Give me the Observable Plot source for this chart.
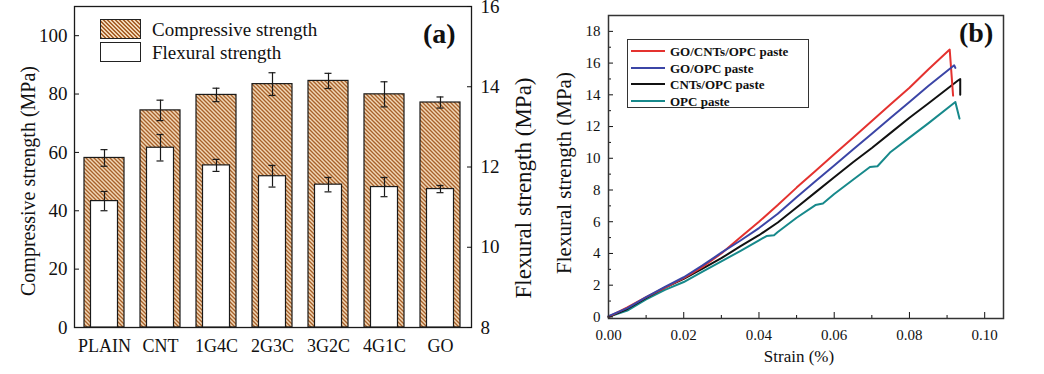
<!DOCTYPE html>
<html><head><meta charset="utf-8">
<script src="https://cdn.jsdelivr.net/npm/d3@7"></script>
<script src="https://cdn.jsdelivr.net/npm/@observablehq/plot@0.6"></script>
<style>
body{margin:0;background:#fff;}
#wrap{position:relative;width:1044px;height:374px;overflow:hidden;font-family:'Liberation Serif','Times New Roman',serif;color:#111;}
.abs{position:absolute;}
.lgA{position:absolute;font-size:19px;line-height:1;white-space:nowrap;transform:translateY(-50%);}
.lgB{position:absolute;font-size:13px;font-weight:bold;line-height:1;white-space:nowrap;transform:translateY(-50%);}
.sw{position:absolute;box-sizing:border-box;border:1.3px solid #222;}
.ln{position:absolute;height:0;border-top:2px solid;}
.tag{position:absolute;font-weight:bold;font-size:28px;line-height:1;transform:translateY(-50%);}
</style></head><body><div id="wrap"></div>
<script>
// ---------- Panel (a) data ----------
const categories = ["PLAIN", "CNT", "1G4C", "2G3C", "3G2C", "4G1C", "GO"];
const compressive = [58.1, 74.4, 79.7, 83.4, 84.5, 79.9, 77.1];
const compressiveErr = [2.85, 3.5, 2.3, 3.9, 2.6, 4.3, 1.9];
const flexural = [11.15, 12.48, 12.04, 11.77, 11.56, 11.50, 11.45];
const flexuralErr = [0.24, 0.33, 0.15, 0.27, 0.18, 0.24, 0.09];
const leftTicks = [0, 20, 40, 60, 80, 100];
const rightTicks = [8, 10, 12, 14, 16];
const leftTitle = "Compressive strength (MPa)";
const rightTitle = "Flexural strength (MPa)";
const legendA = ["Compressive strength", "Flexural strength"];

// ---------- Panel (b) data ----------
const seriesNames = ["GO/CNTs/OPC paste", "GO/OPC paste", "CNTs/OPC paste", "OPC paste"];
const seriesColors = ["#e4322f", "#3b45a6", "#111111", "#17898b"];
const strainGoCnt = [0, 0.005, 0.01, 0.015, 0.02, 0.025, 0.03, 0.035, 0.04, 0.045, 0.05, 0.055, 0.06, 0.065, 0.07, 0.075, 0.08, 0.085, 0.0907, 0.0916];
const stressGoCnt = [0, 0.6, 1.25, 1.85, 2.45, 3.15, 4.0, 5.0, 6.0, 7.05, 8.15, 9.2, 10.25, 11.3, 12.35, 13.4, 14.45, 15.6, 16.85, 13.95];
const strainGo = [0, 0.005, 0.01, 0.015, 0.02, 0.025, 0.03, 0.035, 0.04, 0.045, 0.05, 0.055, 0.06, 0.065, 0.07, 0.075, 0.08, 0.085, 0.0919, 0.0922];
const stressGo = [0.05, 0.55, 1.25, 1.9, 2.5, 3.25, 4.05, 4.8, 5.6, 6.5, 7.55, 8.55, 9.55, 10.55, 11.55, 12.55, 13.55, 14.55, 15.86, 15.7];
const strainCnt = [0, 0.005, 0.01, 0.015, 0.02, 0.025, 0.03, 0.035, 0.04, 0.045, 0.05, 0.055, 0.06, 0.065, 0.07, 0.075, 0.08, 0.085, 0.0929, 0.0935, 0.0935];
const stressCnt = [0, 0.5, 1.2, 1.85, 2.4, 3.05, 3.7, 4.45, 5.15, 5.95, 6.9, 7.85, 8.8, 9.75, 10.65, 11.6, 12.55, 13.45, 14.9, 15.0, 14.0];
const strainOpc = [0, 0.005, 0.01, 0.015, 0.02, 0.025, 0.03, 0.035, 0.04, 0.042, 0.044, 0.045, 0.05, 0.055, 0.057, 0.06, 0.065, 0.0695, 0.0715, 0.075, 0.08, 0.085, 0.0922, 0.0933];
const stressOpc = [0, 0.4, 1.1, 1.7, 2.2, 2.85, 3.5, 4.15, 4.83, 5.1, 5.15, 5.35, 6.25, 7.05, 7.15, 7.75, 8.65, 9.45, 9.5, 10.4, 11.3, 12.2, 13.55, 12.5];
const strainTicks = [0, 0.02, 0.04, 0.06, 0.08, 0.10];
const strainMinor = [0.01, 0.03, 0.05, 0.07, 0.09];
const stressTicks = [0, 2, 4, 6, 8, 10, 12, 14, 16, 18];
const stressMinor = [1, 3, 5, 7, 9, 11, 13, 15, 17];
const xTitleB = "Strain (%)";
const yTitleB = "Flexural strength (MPa)";

// ---------- build ----------
const FONT = "'Liberation Serif','Times New Roman',serif";
const wrap = document.getElementById("wrap");
const INK = "#1a1a1a";

const rowsA = categories.map((c, i) => ({category: c, comp: compressive[i], compErr: compressiveErr[i], flex: flexural[i], flexErr: flexuralErr[i]}));
const dimA = {width: 540, height: 374, marginLeft: 74, marginRight: 69, marginTop: 6, marginBottom: 47};
const xA = {domain: categories, paddingInner: 0.28, paddingOuter: 0.14};
const styleA = {fontFamily: FONT, fontSize: "19px", background: "transparent", color: "#111", overflow: "visible"};

const plotA = Plot.plot({
  ...dimA, style: styleA,
  x: {...xA, label: null},
  y: {domain: [0, 110], label: null},
  marks: [
    Plot.barY(rowsA, {x: "category", y: "comp", fill: "url(#hatchA)", stroke: INK, strokeWidth: 1.2}),
    Plot.ruleX(rowsA, {x: "category", y1: d => d.comp - d.compErr, y2: d => d.comp + d.compErr, stroke: INK, strokeWidth: 1.2}),
    Plot.tickY(rowsA, {x: "category", y: d => d.comp + d.compErr, inset: 16.5, stroke: INK, strokeWidth: 1.2}),
    Plot.tickY(rowsA, {x: "category", y: d => d.comp - d.compErr, inset: 16.5, stroke: INK, strokeWidth: 1.2}),
    Plot.axisY({ticks: leftTicks, tickSize: 0, tickPadding: 7, label: null}),
    Plot.axisY({ticks: leftTicks, tickSize: -5, tickFormat: () => "", label: null}),
    Plot.axisX({tickSize: 0, tickPadding: 12, label: null, fontSize: 18}),
    Plot.text([leftTitle], {frameAnchor: "left", textAnchor: "middle", lineAnchor: "middle", text: d => d, rotate: -90, dx: -46, dy: 14, fontSize: 20}),
    Plot.frame({stroke: INK, strokeWidth: 1.3})
  ]
});
const defs = d3.select(plotA).insert("defs", ":first-child");
const pat = defs.append("pattern").attr("id", "hatchA").attr("patternUnits", "userSpaceOnUse").attr("width", 4).attr("height", 4);
pat.append("rect").attr("width", 4).attr("height", 4).attr("fill", "#f1d7b6");
pat.append("path").attr("d", "M0,0L4,4M-1,3L1,5M3,-1L5,1").attr("stroke", "#a8612a").attr("stroke-width", 1.35);
plotA.style.position = "absolute"; plotA.style.left = "0px"; plotA.style.top = "0px";
wrap.appendChild(plotA);

const plotA2 = Plot.plot({
  ...dimA, style: styleA,
  x: {...xA, axis: null},
  y: {domain: [8, 16], label: null},
  marks: [
    Plot.barY(rowsA, {x: "category", y1: () => rightTicks[0], y2: "flex", fill: "white", stroke: INK, strokeWidth: 1.2, insetLeft: 6.5, insetRight: 6.5}),
    Plot.ruleX(rowsA, {x: "category", y1: d => d.flex - d.flexErr, y2: d => d.flex + d.flexErr, stroke: INK, strokeWidth: 1.2}),
    Plot.tickY(rowsA, {x: "category", y: d => d.flex + d.flexErr, inset: 16.5, stroke: INK, strokeWidth: 1.2}),
    Plot.tickY(rowsA, {x: "category", y: d => d.flex - d.flexErr, inset: 16.5, stroke: INK, strokeWidth: 1.2}),
    Plot.axisY({anchor: "right", ticks: rightTicks, tickSize: 0, tickPadding: 9, label: null}),
    Plot.axisY({anchor: "right", ticks: rightTicks, tickSize: -5, tickFormat: () => "", label: null}),
    Plot.text([rightTitle], {frameAnchor: "right", textAnchor: "middle", lineAnchor: "middle", text: d => d, rotate: -90, dx: 52, dy: 21, fontSize: 23})
  ]
});
plotA2.style.position = "absolute"; plotA2.style.left = "0px"; plotA2.style.top = "0px";
wrap.appendChild(plotA2);

// legend (a)
const legA = [
  {top: 19, bg: "repeating-linear-gradient(45deg,#a8612a 0px,#a8612a 1.3px,#f1d7b6 1.3px,#f1d7b6 2.8px)"},
  {top: 42, bg: "#fff"}
];
legendA.forEach((t, i) => {
  const s = document.createElement("div");
  s.className = "sw"; s.style.left = "100px"; s.style.top = legA[i].top + "px";
  s.style.width = "41px"; s.style.height = "20px"; s.style.background = legA[i].bg;
  wrap.appendChild(s);
  const l = document.createElement("div");
  l.className = "lgA"; l.style.left = "152px"; l.style.top = (legA[i].top + 10) + "px"; l.textContent = t;
  wrap.appendChild(l);
});
const tagA = document.createElement("div");
tagA.className = "tag"; tagA.style.left = "423px"; tagA.style.top = "34px"; tagA.textContent = "(a)";
wrap.appendChild(tagA);

// ---------- Panel (b) ----------
const seriesData = [
  [seriesNames[3], strainOpc, stressOpc],
  [seriesNames[2], strainCnt, stressCnt],
  [seriesNames[0], strainGoCnt, stressGoCnt],
  [seriesNames[1], strainGo, stressGo]
];
const rowsB = seriesData.flatMap(([name, xs, ys]) => xs.map((x, i) => ({series: name, strain: x, stress: ys[i]})));

const plotB = Plot.plot({
  width: 504, height: 374, marginLeft: 68, marginRight: 41, marginTop: 15, marginBottom: 56,
  style: {fontFamily: FONT, fontSize: "15px", background: "transparent", color: "#111", overflow: "visible"},
  x: {domain: [0, 0.105], label: null},
  y: {domain: [-0.1, 19], label: null},
  color: {domain: seriesNames, range: seriesColors},
  marks: [
    Plot.line(rowsB, {x: "strain", y: "stress", z: "series", stroke: "series", strokeWidth: 2}),
    Plot.axisX({ticks: strainTicks, tickFormat: d3.format(".2f"), tickSize: 0, tickPadding: 11, label: null}),
    Plot.axisX({ticks: strainTicks, tickSize: -6, tickFormat: () => "", label: null}),
    Plot.axisX({ticks: strainMinor, tickSize: -3, tickFormat: () => "", label: null}),
    Plot.axisY({ticks: stressTicks, tickFormat: d3.format("d"), tickSize: 0, tickPadding: 8, label: null}),
    Plot.axisY({ticks: stressTicks, tickSize: -5, tickFormat: () => "", label: null}),
    Plot.axisY({ticks: stressMinor, tickSize: -3, tickFormat: () => "", label: null}),
    Plot.text([yTitleB], {frameAnchor: "left", textAnchor: "middle", lineAnchor: "middle", text: d => d, rotate: -90, dx: -44, dy: 6, fontSize: 21}),
    Plot.text([xTitleB], {frameAnchor: "bottom", textAnchor: "middle", lineAnchor: "middle", text: d => d, dx: -7, dy: 38, fontSize: 17}),
    Plot.frame({stroke: "#333", strokeWidth: 1.5})
  ]
});
plotB.style.position = "absolute"; plotB.style.left = "540px"; plotB.style.top = "0px";
wrap.appendChild(plotB);

// legend (b)
const box = document.createElement("div");
box.className = "abs";
Object.assign(box.style, {left: "627px", top: "39px", width: "182px", height: "69px", border: "1.5px solid #333", boxSizing: "border-box"});
wrap.appendChild(box);
const rowY = [51, 67.5, 84, 100.5];
seriesNames.forEach((n, i) => {
  const l = document.createElement("div");
  l.className = "ln"; l.style.left = "631px"; l.style.width = "34px"; l.style.top = (rowY[i] - 1) + "px"; l.style.borderColor = seriesColors[i];
  wrap.appendChild(l);
  const t = document.createElement("div");
  t.className = "lgB"; t.style.left = "670px"; t.style.top = rowY[i] + "px"; t.textContent = n;
  wrap.appendChild(t);
});
const tagB = document.createElement("div");
tagB.className = "tag"; tagB.style.left = "959px"; tagB.style.top = "33px"; tagB.textContent = "(b)";
wrap.appendChild(tagB);
</script></body></html>
